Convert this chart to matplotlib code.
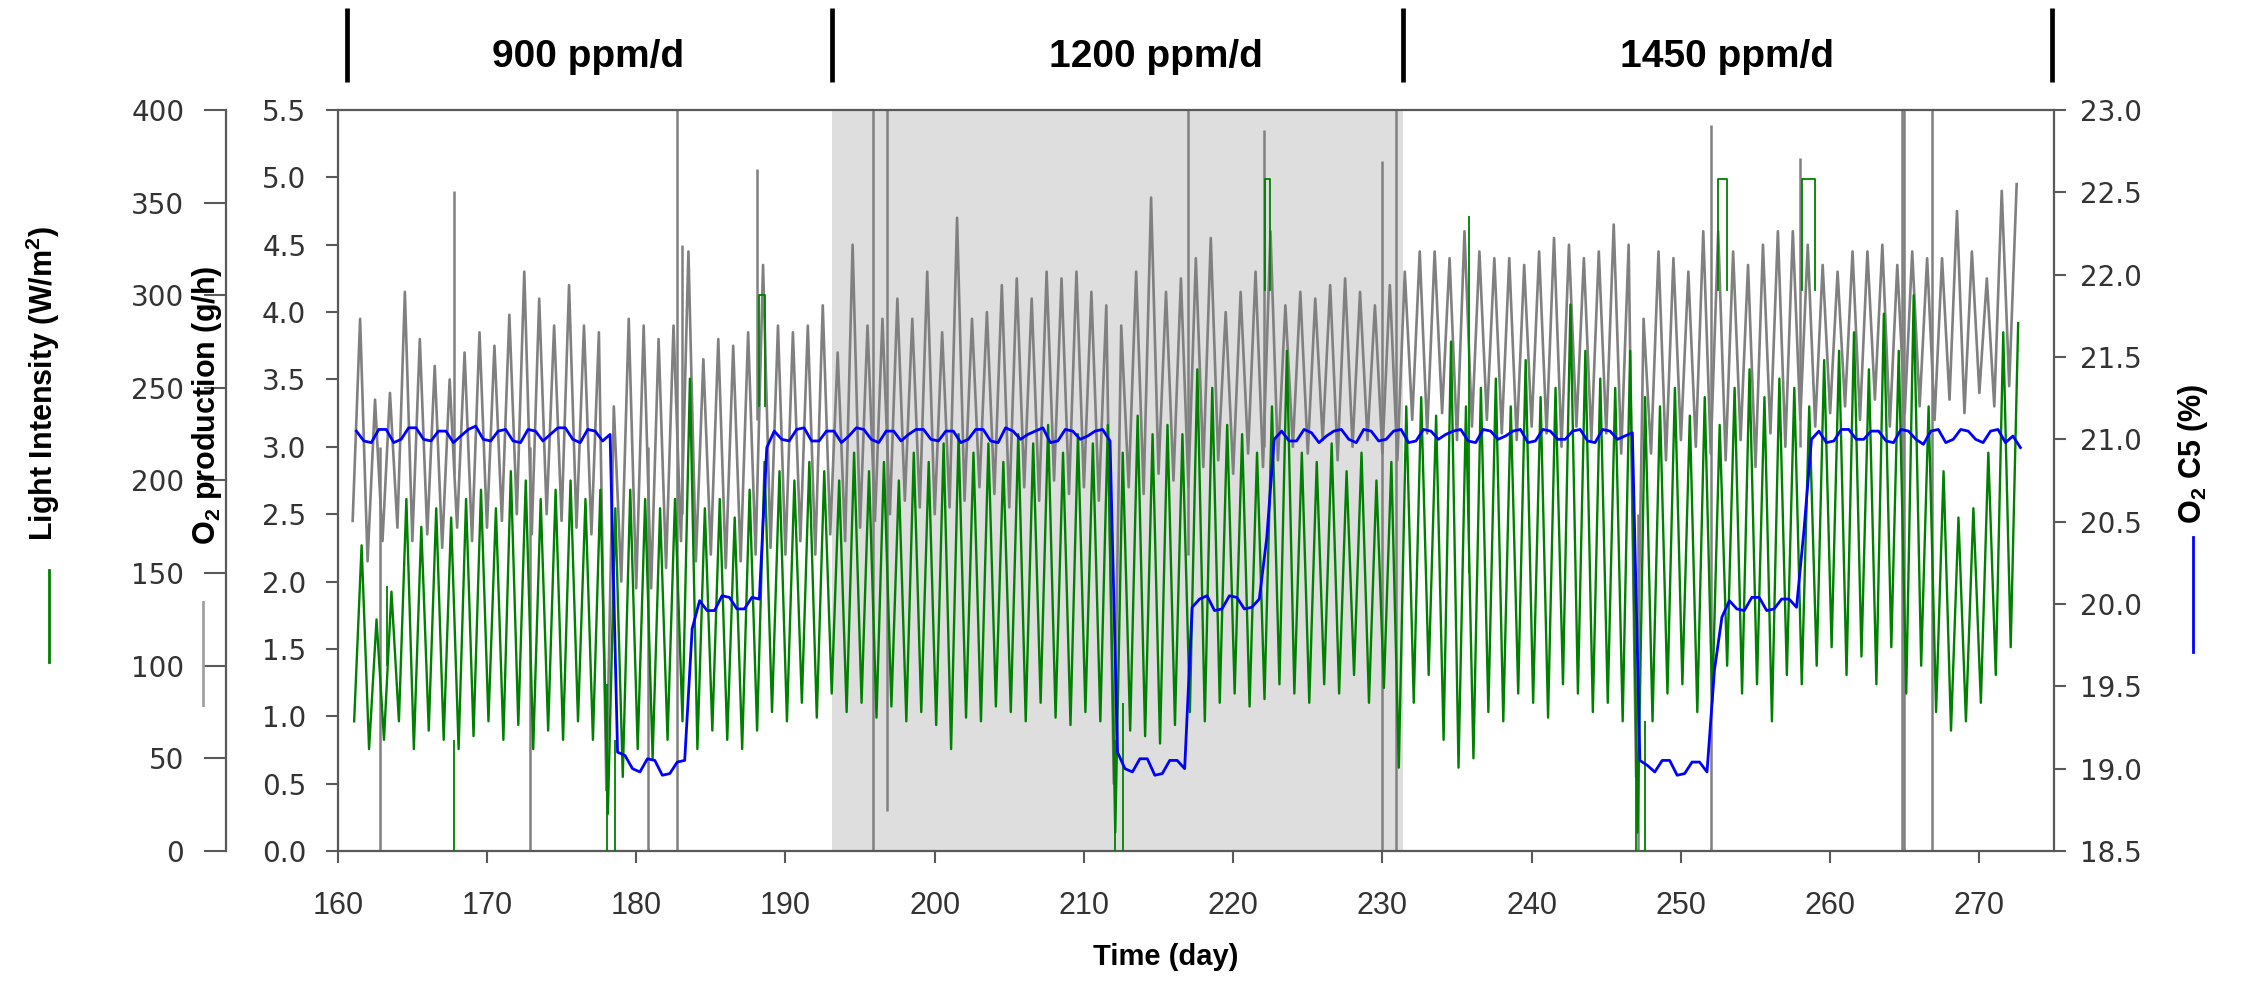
import numpy as np
import matplotlib
matplotlib.use("Agg")
import matplotlib.pyplot as plt
from matplotlib.lines import Line2D

plt.rcParams['mathtext.fontset'] = 'custom'
plt.rcParams['mathtext.rm'] = 'Liberation Sans'
plt.rcParams['mathtext.bf'] = 'Liberation Sans:bold'

# ---- data (one value pair per day, days 161..272) ----
days = np.arange(161, 273)

# O2 production (g/h): daily high / low
o2_prod_hi = [3.95, 3.35, 3.40, 4.15, 3.80, 3.60, 3.50, 3.70, 3.85, 3.75,
              3.98, 4.30, 4.10, 3.90, 4.20, 3.90, 3.85, 3.30, 3.95, 3.90,
              3.80, 3.90, 4.45, 3.65, 3.80, 3.75, 3.85, 4.35, 3.90, 3.85,
              3.90, 4.05, 3.70, 4.50, 3.90, 3.95, 4.10, 3.95, 4.30, 3.85,
              4.70, 3.95, 4.00, 4.20, 4.25, 4.10, 4.30, 4.25, 4.30, 4.15,
              4.05, 3.90, 4.30, 4.85, 4.15, 4.25, 4.40, 4.55, 4.00, 4.15,
              4.30, 4.60, 4.05, 4.15, 4.10, 4.20, 4.25, 4.15, 4.05, 4.20,
              4.30, 4.45, 4.45, 4.40, 4.60, 4.45, 4.40, 4.40, 4.35, 4.45,
              4.55, 4.50, 4.40, 4.45, 4.65, 4.50, 3.95, 4.45, 4.40, 4.30,
              4.60, 4.60, 4.45, 4.35, 4.50, 4.60, 4.60, 4.50, 4.35, 4.30,
              4.45, 4.45, 4.50, 4.35, 4.45, 4.40, 4.40, 4.75, 4.45, 4.25,
              4.90, 4.95]
o2_prod_lo = [2.45, 2.15, 2.30, 2.40, 2.30, 2.35, 2.25, 2.40, 2.30, 2.40,
              2.45, 2.50, 2.35, 2.50, 2.45, 2.40, 2.35, 0.45, 2.00, 1.95,
              1.95, 2.10, 2.30, 2.15, 2.20, 2.10, 2.15, 2.20, 2.25, 2.20,
              2.30, 2.20, 2.35, 2.30, 2.40, 2.45, 2.50, 2.60, 2.55, 2.50,
              2.55, 2.60, 2.70, 2.65, 2.55, 2.70, 2.60, 2.75, 2.65, 2.70,
              2.60, 0.50, 2.70, 2.65, 2.80, 2.75, 2.70, 2.85, 2.90, 2.80,
              2.95, 2.85, 2.90, 3.00, 2.95, 3.05, 2.90, 3.00, 3.05, 2.95,
              2.90, 3.20, 3.10, 3.25, 3.05, 3.15, 3.20, 3.10, 3.05, 3.15,
              3.10, 3.00, 3.15, 3.05, 3.10, 2.95, 0.55, 2.95, 2.90, 3.05,
              3.00, 2.95, 2.90, 3.05, 2.85, 3.10, 3.00, 3.20, 3.15, 3.25,
              3.30, 3.20, 3.35, 3.15, 3.25, 3.30, 3.20, 3.35, 3.25, 3.40,
              3.30, 3.45]

# Light intensity (W/m2): daily high / low
light_hi = [165, 125, 140, 190, 175, 185, 180, 190, 195, 185,
            205, 200, 190, 195, 200, 190, 195, 185, 195, 190,
            185, 190, 255, 185, 190, 180, 195, 210, 205, 200,
            210, 205, 200, 215, 205, 210, 200, 215, 210, 220,
            225, 215, 220, 210, 225, 220, 230, 215, 225, 220,
            230, 215, 235, 225, 230, 225, 260, 250, 230, 225,
            215, 240, 270, 215, 210, 220, 205, 215, 200, 210,
            240, 245, 235, 275, 240, 250, 255, 240, 265, 245,
            250, 295, 270, 255, 250, 270, 245, 240, 250, 235,
            245, 230, 250, 260, 245, 255, 250, 240, 265, 270,
            280, 260, 290, 270, 300, 240, 205, 180, 185, 215,
            280, 285]
light_lo = [70, 55, 60, 70, 55, 65, 60, 55, 62, 70,
            60, 68, 55, 65, 60, 70, 60, 20, 40, 55,
            50, 60, 70, 55, 65, 60, 55, 65, 75, 70,
            80, 72, 85, 75, 80, 72, 78, 70, 75, 68,
            55, 72, 70, 78, 75, 70, 80, 72, 68, 75,
            70, 10, 65, 62, 58, 68, 75, 70, 80, 85,
            78, 82, 90, 85, 80, 90, 85, 95, 80, 88,
            45, 80, 95, 60, 45, 50, 75, 70, 85, 80,
            72, 90, 85, 75, 80, 70, 10, 70, 85, 90,
            75, 80, 100, 85, 90, 70, 95, 90, 100, 110,
            95, 105, 90, 110, 85, 100, 75, 65, 70, 80,
            95, 110]

# O2 in C5 (%): two readings per day
o2_c5_a = [21.05, 20.98, 21.06, 21.00, 21.07, 20.99, 21.05, 21.02, 21.08, 20.99,
           21.06, 20.98, 21.05, 21.03, 21.07, 20.98, 21.05, 21.03, 19.08, 18.98,
           19.05, 18.97, 19.05, 20.02, 19.96, 20.04, 19.97, 20.03, 21.05, 20.99,
           21.07, 20.99, 21.05, 21.02, 21.06, 20.98, 21.05, 21.03, 21.06, 20.99,
           21.05, 21.00, 21.06, 20.98, 21.05, 21.03, 21.07, 20.99, 21.05, 21.02,
           21.06, 19.10, 18.98, 19.06, 18.97, 19.05, 19.98, 20.05, 19.97, 20.04,
           19.98, 20.40, 21.05, 20.99, 21.04, 21.02, 21.06, 20.98, 21.05, 21.00,
           21.06, 20.99, 21.05, 21.03, 21.06, 20.98, 21.05, 21.02, 21.06, 20.99,
           21.05, 21.00, 21.06, 20.98, 21.05, 21.02, 19.05, 18.98, 19.05, 18.97,
           19.04, 19.60, 20.02, 19.96, 20.04, 19.97, 20.03, 20.45, 21.05, 20.99,
           21.06, 21.00, 21.05, 20.98, 21.05, 20.97, 21.06, 21.00, 21.05, 20.98,
           21.06, 21.02]
o2_c5_b = [20.99, 21.06, 20.98, 21.07, 21.00, 21.05, 20.98, 21.06, 21.00, 21.05,
           20.99, 21.06, 20.99, 21.07, 21.00, 21.06, 20.99, 19.10, 19.00, 19.06,
           18.96, 19.04, 19.85, 19.96, 20.05, 19.97, 20.04, 20.95, 21.00, 21.06,
           20.99, 21.05, 20.98, 21.07, 21.00, 21.05, 20.99, 21.06, 21.00, 21.05,
           20.98, 21.06, 20.99, 21.07, 21.00, 21.05, 20.98, 21.06, 21.00, 21.05,
           20.99, 19.00, 19.06, 18.96, 19.05, 19.00, 20.03, 19.96, 20.05, 19.97,
           20.03, 21.00, 20.99, 21.06, 20.98, 21.05, 21.00, 21.06, 20.99, 21.05,
           20.98, 21.06, 21.00, 21.05, 20.99, 21.06, 21.00, 21.05, 20.98, 21.06,
           21.00, 21.05, 20.99, 21.06, 21.00, 21.04, 19.02, 19.05, 18.96, 19.04,
           18.98, 19.92, 19.97, 20.04, 19.96, 20.03, 19.98, 21.00, 20.98, 21.06,
           21.00, 21.05, 20.99, 21.06, 21.00, 21.05, 20.98, 21.06, 21.00, 21.05,
           20.98, 20.95]

# single spikes of O2 production (day, from, to)
prod_spike_day = [162.8, 167.8, 172.9, 180.8, 182.75, 183.1, 188.1, 195.85, 196.8,
                  217.0, 222.05, 230.0, 230.9, 247.1, 252.0, 258.0, 264.8, 264.95, 266.8]
prod_spike_lo = [0.0, 2.8, 0.0, 0.0, 0.0, 2.5, 3.2, 0.0, 0.3,
                 2.2, 3.0, 0.0, 0.0, 0.0, 0.0, 3.0, 0.0, 0.0, 0.0]
prod_spike_hi = [3.0, 4.9, 3.0, 3.0, 5.5, 4.5, 5.06, 5.5, 5.5,
                 5.5, 5.35, 5.12, 5.5, 2.5, 5.39, 5.14, 5.5, 5.5, 5.5]

# light dropouts / spikes (day, from, to)
light_spike_day = [163.3, 167.8, 178.05, 178.6, 212.1, 212.6, 235.8, 247.0, 247.6]
light_spike_lo = [100, 0, 0, 0, 0, 0, 150, 0, 0]
light_spike_hi = [143, 60, 90, 60, 60, 80, 343, 60, 70]

# light plateaus (start, end, level)
light_flat_start = [188.2, 222.1, 252.5, 258.1]
light_flat_end = [188.6, 222.5, 253.1, 259.0]
light_flat_level = [300, 363, 363, 363]

phase_edges = [160.6, 193.1, 231.4, 274.9]
phase_names = ['900 ppm/d', '1200 ppm/d', '1450 ppm/d']
phase_name_x = [176.8, 214.8, 253.1]
shade_start, shade_end = 193.1, 231.4

x_ticks = np.arange(160, 271, 10)
prod_ticks = np.arange(0, 5.51, 0.5)
light_ticks = np.arange(0, 401, 50)
c5_ticks = np.arange(18.5, 23.01, 0.5)


def zigzag(lo, hi, off_lo=0.0, off_hi=0.5):
    t = np.column_stack([days + off_lo, days + off_hi]).ravel()
    v = np.column_stack([lo, hi]).ravel()
    return t, v


SPINE = '#595959'
TXT = '#333333'

fig = plt.figure(figsize=(22.47, 9.83), dpi=100)
ax = fig.add_axes([0.1503, 0.1343, 0.7638, 0.7538])
ax_l = ax.twinx()
ax_r = ax.twinx()

# shaded 1200 ppm/d phase
ax.axvspan(shade_start, shade_end, color='#dedede', zorder=0, lw=0)

# O2 production (grey)
t, v = zigzag(o2_prod_lo, o2_prod_hi)
ax.plot(t, v, color='#808080', lw=1.9, zorder=2)
ax.vlines(prod_spike_day, prod_spike_lo, prod_spike_hi, color='#808080', lw=1.8, zorder=2)

# light intensity (green)
t, v = zigzag(light_lo, light_hi, 0.1, 0.6)
ax_l.plot(t, v, color='#008000', lw=1.7, zorder=2)
ax_l.vlines(light_spike_day, light_spike_lo, light_spike_hi, color='#008000', lw=1.3)
for s, e, lv in zip(light_flat_start, light_flat_end, light_flat_level):
    ax_l.plot([s, s, e, e], [lv - 60, lv, lv, lv - 60], color='#008000', lw=1.3)

# O2 C5 (blue)
t, v = zigzag(o2_c5_a, o2_c5_b, 0.25, 0.75)
ax_r.plot(t, v, color='#0000ff', lw=2.0, zorder=3)

# axes limits / ticks
ax.set_xlim(160, 275)
ax.set_ylim(0, 5.5)
ax_l.set_ylim(0, 400)
ax_r.set_ylim(18.5, 23.0)

ax.set_xticks(x_ticks)
ax.set_yticks(prod_ticks)
ax.set_yticklabels(['%.1f' % y for y in prod_ticks])
ax_l.set_yticks(light_ticks)
ax_r.set_yticks(c5_ticks)
ax_r.set_yticklabels(['%.1f' % y for y in c5_ticks])

for a in (ax, ax_l, ax_r):
    for sp in a.spines.values():
        sp.set_color(SPINE)
        sp.set_linewidth(1.6)

ax.spines['right'].set_visible(False)
ax_l.spines['right'].set_visible(False)
ax_l.spines['top'].set_visible(False)
ax_l.spines['bottom'].set_visible(False)
ax_l.spines['left'].set_position(('axes', -0.0651))
ax_l.yaxis.set_ticks_position('left')
ax_l.yaxis.set_label_position('left')
ax_r.spines['left'].set_visible(False)
ax_r.spines['top'].set_visible(False)
ax_r.spines['bottom'].set_visible(False)

tick_kw = dict(direction='out', width=1.5, color=SPINE, labelcolor=TXT)
ax.tick_params(axis='x', length=8.6, pad=20, labelsize=22, **tick_kw)
ax.tick_params(axis='y', length=8.6, pad=14, labelsize=20, **tick_kw)
ax_l.tick_params(axis='y', length=16, pad=14, labelsize=20, **tick_kw)
ax_r.tick_params(axis='y', length=8.6, pad=10, labelsize=20, **tick_kw)
for lab in ax.get_xticklabels():
    lab.set_fontfamily('Liberation Sans')
for a in (ax, ax_l, ax_r):
    for lab in a.get_yticklabels():
        lab.set_fontfamily('DejaVu Sans')

# phase brackets above the plot
ax.vlines(phase_edges, 1.0378, 1.1377, transform=ax.get_xaxis_transform(),
          color='black', lw=3.4, clip_on=False)
for x, name in zip(phase_name_x, phase_names):
    ax.text(x, 1.0715, name, transform=ax.get_xaxis_transform(), ha='center',
            va='center', fontsize=28, fontweight='bold', family='Liberation Sans')

# axis titles with little colour keys
lab_kw = dict(fontsize=22, fontweight='bold', family='Liberation Sans',
              rotation=90, ha='center', va='center')
fig.text(43 / 2247, 1 - 383 / 983, 'Light Intensity (W/m$^{\\mathbf{2}}$)', **lab_kw)
fig.text(207 / 2247, 1 - 405 / 983, 'O$_{\\mathbf{2}}$ production (g/h)', **lab_kw)
fig.text(2193 / 2247, 1 - 454 / 983, 'O$_{\\mathbf{2}}$ C5 (%)', **lab_kw)
fig.text(1166 / 2247, 1 - 957 / 983, 'Time (day)', fontsize=21, fontweight='bold',
         family='Liberation Sans', ha='center', va='center')

for xk, y0, y1, c in [(49, 570, 662, '#008000'), (203, 602, 705, '#a0a0a0'),
                      (2193, 537, 652, '#0000ff')]:
    fig.add_artist(Line2D([xk / 2247, xk / 2247], [1 - y0 / 983, 1 - y1 / 983],
                          color=c, lw=2, transform=fig.transFigure))

fig.savefig('out.png', dpi=100)
